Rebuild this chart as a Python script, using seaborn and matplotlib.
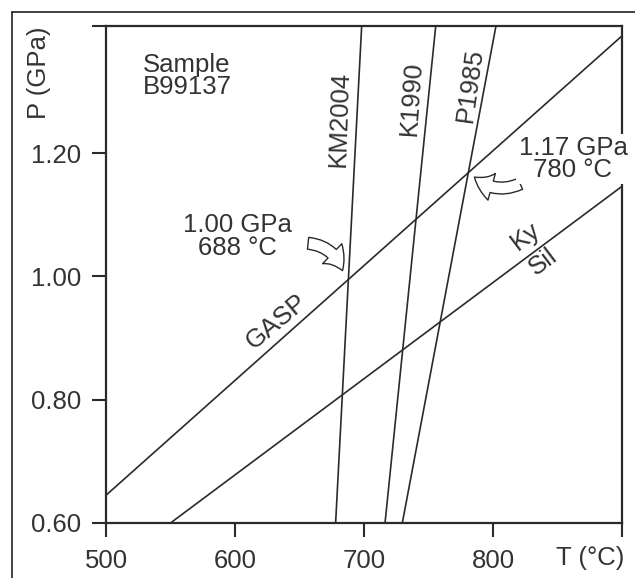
import numpy as np
import pandas as pd
import matplotlib
matplotlib.use("Agg")
import matplotlib.pyplot as plt
from matplotlib.patches import FancyArrowPatch
from matplotlib.lines import Line2D
import seaborn as sns

# ---- data ----
line_names = ["GASP", "Ky/Sil", "KM2004", "K1990", "P1985"]
T_start = [500.0, 550.0, 678.0, 716.3, 729.7]
P_start = [0.645, 0.600, 0.600, 0.600, 0.600]
T_end = [900.0, 900.0, 698.2, 755.6, 802.3]
P_end = [1.390, 1.146, 1.406, 1.406, 1.406]

x_ticks = [500, 600, 700, 800, 900]
x_ticklabels = ["500", "600", "700", "800", ""]
y_ticks = [0.60, 0.80, 1.00, 1.20, 1.406]
y_ticklabels = ["0.60", "0.80", "1.00", "1.20", ""]

sample_label = "Sample\nB99137"
point1_label = "1.00 GPa\n688 °C"
point2_label = "1.17 GPa\n780 °C"

# ---- build long-form table ----
rows = []
for n, t0, p0, t1, p1 in zip(line_names, T_start, P_start, T_end, P_end):
    rows.append({"name": n, "T": t0, "P": p0})
    rows.append({"name": n, "T": t1, "P": p1})
df = pd.DataFrame(rows)

sns.set_theme(style="ticks")
plt.rcParams["font.family"] = ["Liberation Sans", "DejaVu Sans"]

ink = "#2a2a2a"
txt = "#333333"
fs = 18.5

fig = plt.figure(figsize=(6.35, 5.78), dpi=100)
ax = fig.add_axes([106 / 635, 1 - 523 / 578, 516 / 635, 497 / 578])

sns.lineplot(data=df, x="T", y="P", units="name", estimator=None,
             color=ink, linewidth=1.2, ax=ax, legend=False)

ax.set_xlim(500, 900)
ax.set_ylim(0.60, 1.406)
ax.set_xticks(x_ticks)
ax.set_xticklabels(x_ticklabels)
ax.set_yticks(y_ticks)
ax.set_yticklabels(y_ticklabels)

for s in ax.spines.values():
    s.set_visible(True)
    s.set_color(ink)
    s.set_linewidth(1.6)

ax.tick_params(axis="both", direction="out", length=10, width=1.5,
               colors=ink, labelcolor=txt, labelsize=fs)
ax.tick_params(axis="y", pad=8)
ax.tick_params(axis="x", pad=9)

ax.set_xlabel("T (°C)", fontsize=fs, color=txt)
ax.xaxis.set_label_coords(0.938, -0.046)
ax.set_ylabel("P (GPa)", fontsize=fs, color=txt)
ax.yaxis.set_label_coords(-0.106, 0.905)

# text annotations
ax.text(528.7, 1.363, sample_label, ha="left", va="top", fontsize=fs,
        color=txt, linespacing=0.92)
ax.text(602, 1.065, point1_label, ha="center", va="center", fontsize=fs,
        color=txt, linespacing=0.92)
ax.text(862, 1.190, point2_label, ha="center", va="center", fontsize=fs,
        color=txt, linespacing=0.92, zorder=5, clip_on=False,
        bbox=dict(facecolor="white", edgecolor="none", pad=1.5))

ax.text(681.0, 1.255, "KM2004", rotation=88, ha="center", va="center",
        fontsize=fs, color=txt)
ax.text(737.0, 1.288, "K1990", rotation=86, ha="center", va="center",
        fontsize=fs, color=txt)
ax.text(782.0, 1.311, "P1985", rotation=82, ha="center", va="center",
        fontsize=fs, color=txt)
ax.text(632.6, 0.927, "GASP", rotation=40, ha="center", va="center",
        fontsize=fs, color=txt)
ax.text(825.6, 1.065, "Ky", rotation=37, ha="center", va="center",
        fontsize=fs, color=txt)
ax.text(838.8, 1.023, "Sil", rotation=37, ha="center", va="center",
        fontsize=fs, color=txt)

# hollow curved arrows
style = "simple,head_length=0.75,head_width=1.05,tail_width=0.45"
a1 = FancyArrowPatch((654.5, 1.054), (684.0, 1.005), arrowstyle=style,
                     mutation_scale=19, connectionstyle="arc3,rad=-0.35",
                     facecolor="white", edgecolor=ink, linewidth=1.0,
                     zorder=4)
ax.add_patch(a1)
a2 = FancyArrowPatch((823, 1.152), (784.0, 1.164), arrowstyle=style,
                     mutation_scale=19, connectionstyle="arc3,rad=-0.35",
                     facecolor="white", edgecolor=ink, linewidth=1.0,
                     zorder=4)
ax.add_patch(a2)

# outer frame (top and left edges)
fx = 12 / 635
fy = 1 - 12 / 578
fig.add_artist(Line2D([fx, fx], [0, fy], transform=fig.transFigure,
                      color="#222222", linewidth=1.2))
fig.add_artist(Line2D([fx, 1], [fy, fy], transform=fig.transFigure,
                      color="#222222", linewidth=1.2))

fig.savefig("out.png", dpi=100, facecolor="white")
